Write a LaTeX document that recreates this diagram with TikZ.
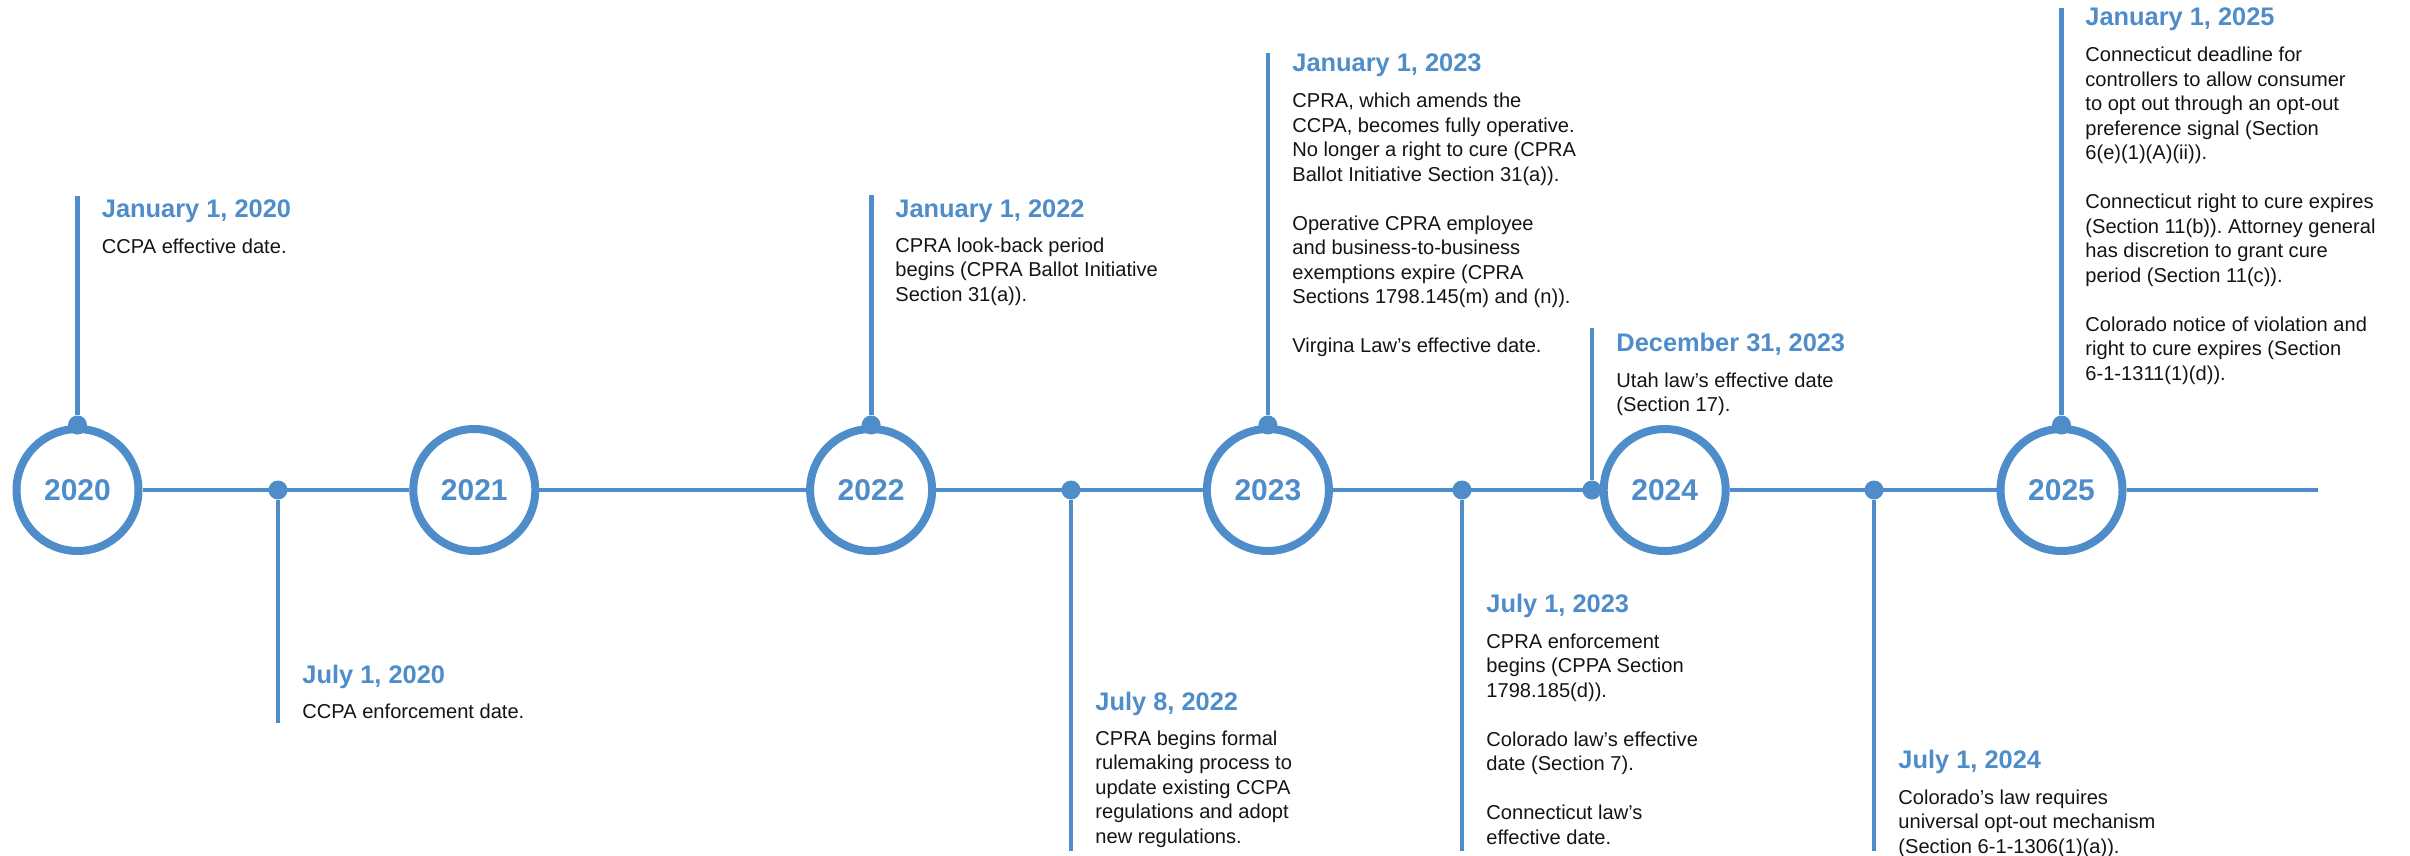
\documentclass[tikz,border=0pt]{standalone}
\usepackage{fontspec}
\setmainfont{Liberation Sans}
\frenchspacing
\definecolor{tlblue}{HTML}{4E8DC9}
\definecolor{txt}{HTML}{141414}
\newcommand\blk[1]{\vtop{\baselineskip=12.25pt\lineskiplimit=-100pt\halign{##\hfil\cr#1\crcr}}}
\begin{document}
\begin{tikzpicture}[x=0.5pt,y=-0.5pt,
  year/.style={circle,draw=tlblue,line width=4pt,fill=white,minimum size=61pt,inner sep=0pt,font=\fontsize{15}{17}\selectfont\bfseries,text=tlblue},
  dot/.style={circle,fill=tlblue,minimum size=9.5pt,inner sep=0pt},
  tl/.style={draw=tlblue,line width=2.4pt},
  vl/.style={draw=tlblue,line width=2.4pt},
  ttl/.style={anchor=base west,inner sep=0pt,font=\fontsize{12.7}{15}\selectfont\bfseries,text=tlblue},
  bdy/.style={anchor=base west,inner sep=0pt,font=\fontsize{10.05}{12.25}\selectfont,text=txt}]
\useasboundingbox (0,0) rectangle (2410,856);

% year circles
\node[year] (y2020) at (77.5,490) {2020};
\node[year] (y2021) at (474.3,490) {2021};
\node[year] (y2022) at (871.1,490) {2022};
\node[year] (y2023) at (1267.9,490) {2023};
\node[year] (y2024) at (1664.7,490) {2024};
\node[year] (y2025) at (2061.5,490) {2025};
\coordinate (tend) at (2318,490);

% timeline
\draw[tl] (y2020) -- (y2021);
\draw[tl] (y2021) -- (y2022);
\draw[tl] (y2022) -- (y2023);
\draw[tl] (y2023) -- (y2024);
\draw[tl] (y2024) -- (y2025);
\draw[tl] (y2025) -- (tend);

% dots on timeline
\node[dot] (d1) at (278,490) {};
\node[dot] (d2) at (1071,490) {};
\node[dot] (d3) at (1462,490) {};
\node[dot] (d4) at (1592,490) {};
\node[dot] (d5) at (1874,490) {};
% dots on circles
\node[dot] (t2020) at (y2020.north) {};
\node[dot] (t2022) at (y2022.north) {};
\node[dot] (t2023) at (y2023.north) {};
\node[dot] (t2025) at (y2025.north) {};

% line ends
\coordinate (e2020) at (77.5,196);
\coordinate (e2022) at (871.1,195);
\coordinate (e2023) at (1267.9,53);
\coordinate (e2025) at (2061.5,8);
\coordinate (e1) at (278,723);
\coordinate (e2) at (1071,851);
\coordinate (e3) at (1462,851);
\coordinate (e4) at (1592,328);
\coordinate (e5) at (1874,851);

\draw[vl] (t2020) -- (e2020);
\draw[vl] (t2022) -- (e2022);
\draw[vl] (t2023) -- (e2023);
\draw[vl] (t2025) -- (e2025);
\draw[vl] (d1) -- (e1);
\draw[vl] (d2) -- (e2);
\draw[vl] (d3) -- (e3);
\draw[vl] (d4) -- (e4);
\draw[vl] (d5) -- (e5);

% texts
\node[ttl] (h1) at (101.5,217) {January 1, 2020};
\node[bdy] (b1) at (101.5,253) {\blk{CCPA effective date.}};

\node[ttl] (h2) at (302,683) {July 1, 2020};
\node[bdy] (b2) at (302,718) {\blk{CCPA enforcement date.}};

\node[ttl] (h3) at (895,217) {January 1, 2022};
\node[bdy] (b3) at (895,252) {\blk{CPRA look-back period\cr begins (CPRA Ballot Initiative\cr Section 31(a)).}};

\node[ttl] (h4) at (1095,710) {July 8, 2022};
\node[bdy] (b4) at (1095,745) {\blk{CPRA begins formal\cr rulemaking process to\cr update existing CCPA\cr regulations and adopt\cr new regulations.}};

\node[ttl] (h5) at (1292,72) {January 1, 2023};
\node[bdy] (b5) at (1292,108) {\blk{CPRA, which amends the\cr CCPA, becomes fully operative.\cr No longer a right to cure (CPRA\cr Ballot Initiative Section 31(a)).\cr\cr Operative CPRA employee\cr and business-to-business\cr exemptions expire (CPRA\cr Sections 1798.145(m) and (n)).\cr\cr Virgina Law’s effective date.}};

\node[ttl] (h6) at (1486,612) {July 1, 2023};
\node[bdy] (b6) at (1486,648) {\blk{CPRA enforcement\cr begins (CPPA Section\cr 1798.185(d)).\cr\cr Colorado law’s effective\cr date (Section 7).\cr\cr Connecticut law’s\cr effective date.}};

\node[ttl] (h7) at (1616,351) {December 31, 2023};
\node[bdy] (b7) at (1616,387) {\blk{Utah law’s effective date\cr (Section 17).}};

\node[ttl] (h8) at (1898,768) {July 1, 2024};
\node[bdy] (b8) at (1898,804) {\blk{Colorado’s law requires\cr universal opt-out mechanism\cr (Section 6-1-1306(1)(a)).}};

\node[ttl] (h9) at (2085,26) {January 1, 2025};
\node[bdy] (b9) at (2085,62) {\blk{Connecticut deadline for\cr controllers to allow consumer\cr to opt out through an opt-out\cr preference signal (Section\cr 6(e)(1)(A)(ii)).\cr\cr Connecticut right to cure expires\cr (Section 11(b)). Attorney general\cr has discretion to grant cure\cr period (Section 11(c)).\cr\cr Colorado notice of violation and\cr right to cure expires (Section\cr 6-1-1311(1)(d)).}};
\end{tikzpicture}
\end{document}
